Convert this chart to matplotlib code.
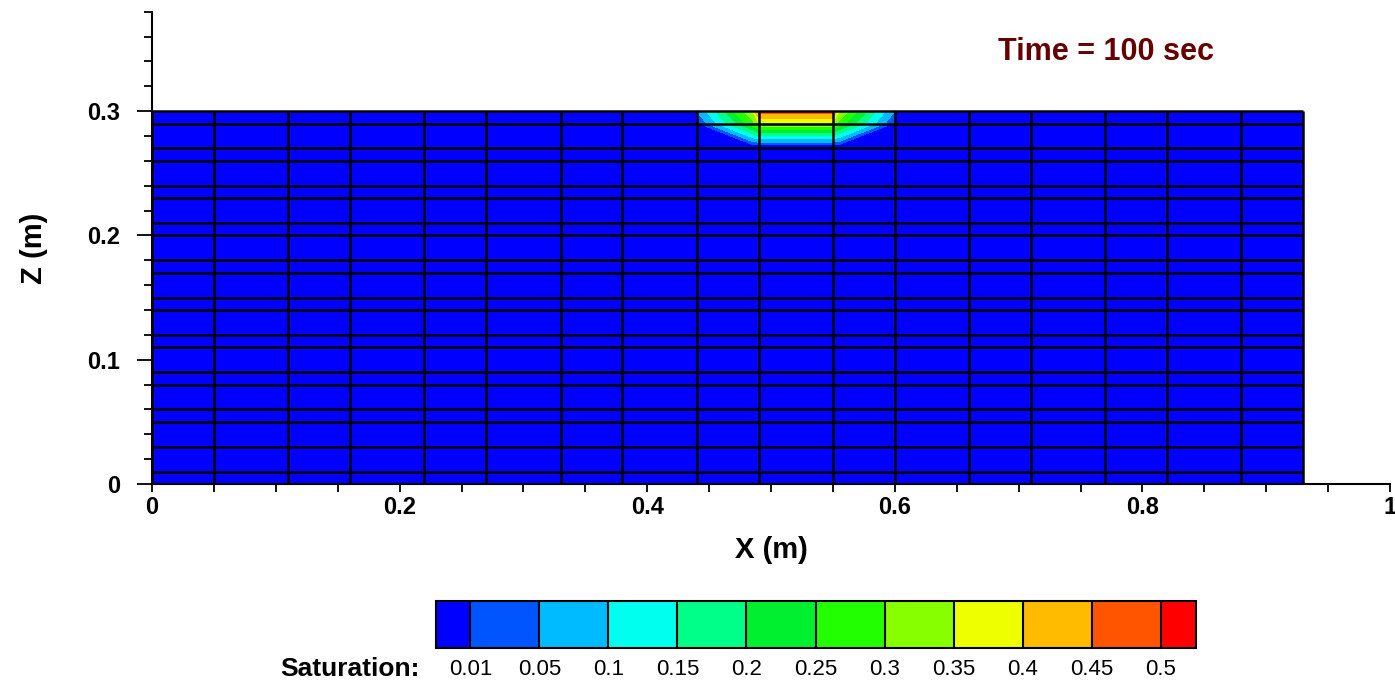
import numpy as np
import matplotlib
matplotlib.use("Agg")
import matplotlib.pyplot as plt
from matplotlib.colors import ListedColormap, BoundaryNorm
from matplotlib.ticker import MultipleLocator, FixedLocator

plt.rcParams['font.family'] = ['Liberation Sans', 'DejaVu Sans']

# mesh cell boundaries (m)
x_edges = [0, 0.05, 0.11, 0.16, 0.22, 0.27, 0.33, 0.38, 0.44, 0.49,
           0.55, 0.60, 0.66, 0.71, 0.77, 0.82, 0.88, 0.93]
z_edges = [0, 0.01, 0.03, 0.05, 0.06, 0.08, 0.09, 0.11, 0.12, 0.14, 0.15,
           0.17, 0.18, 0.20, 0.21, 0.23, 0.24, 0.26, 0.27, 0.29, 0.30]

# saturation (everything else ~0)
plume_x = [0.44, 0.485, 0.49, 0.55, 0.555, 0.60]
plume_z = [0.2725, 0.29, 0.30]
plume_sat = [
    [0.00, 0.00, 0.00, 0.00, 0.00, 0.00],
    [0.00, 0.28, 0.34, 0.34, 0.28, 0.00],
    [0.05, 0.35, 0.48, 0.48, 0.35, 0.05],
]

levels = [0.01, 0.05, 0.1, 0.15, 0.2, 0.25, 0.3, 0.35, 0.4, 0.45, 0.5]
level_labels = ['0.01', '0.05', '0.1', '0.15', '0.2', '0.25', '0.3',
                '0.35', '0.4', '0.45', '0.5']
band_colors = ['#0055ff', '#00bbff', '#00ffee', '#00ff88', '#00f030',
               '#22ff00', '#88ff00', '#eeff00', '#ffbb00', '#ff5500']
under_color = '#0000ff'
over_color = '#ff0000'

cmap = ListedColormap(band_colors)
cmap.set_under(under_color)
cmap.set_over(over_color)
norm = BoundaryNorm(levels, cmap.N)

fig = plt.figure(figsize=(13.95, 6.86), dpi=100)
W, H = 1395, 686
ax = fig.add_axes([152 / W, 1 - 484 / H, 1238 / W, 472.3 / H])

# background: whole domain at residual saturation
ax.fill_between([x_edges[0], x_edges[-1]], z_edges[0], z_edges[-1],
                color=under_color, linewidth=0, zorder=1)

X, Z = np.meshgrid(plume_x, plume_z)
cs = ax.contourf(X, Z, np.array(plume_sat), levels=levels, cmap=cmap,
                 norm=norm, extend='both', zorder=2, antialiased=False)

# mesh lines
ax.vlines(x_edges, z_edges[0], z_edges[-1], colors='black', linewidth=1.8, zorder=3)
ax.hlines(z_edges, x_edges[0], x_edges[-1], colors='black', linewidth=1.8, zorder=3)

ax.set_xlim(0, 1)
ax.set_ylim(0, 0.38)
for side in ['top', 'right']:
    ax.spines[side].set_visible(False)
for side in ['left', 'bottom']:
    ax.spines[side].set_linewidth(1.5)
    ax.spines[side].set_zorder(4)

ax.xaxis.set_major_locator(FixedLocator([0, 0.2, 0.4, 0.6, 0.8, 1.0]))
ax.xaxis.set_minor_locator(MultipleLocator(0.05))
ax.yaxis.set_major_locator(FixedLocator([0, 0.1, 0.2, 0.3]))
ax.yaxis.set_minor_locator(MultipleLocator(0.02))
ax.set_xticklabels(['0', '0.2', '0.4', '0.6', '0.8', '1'])
ax.set_yticklabels(['0', '0.1', '0.2', '0.3'])
ax.tick_params(axis='x', which='both', direction='out', length=6, width=1.3,
               labelsize=17, pad=3)
ax.tick_params(axis='y', which='major', direction='out', length=11, width=1.3,
               labelsize=17, pad=12)
ax.tick_params(axis='y', which='minor', direction='out', length=6, width=1.3)
for lab in ax.get_xticklabels() + ax.get_yticklabels():
    lab.set_fontweight('bold')

ax.set_xlabel('X (m)', fontsize=21, fontweight='bold', labelpad=12)
ax.set_ylabel('Z (m)', fontsize=21, fontweight='bold', labelpad=28)

ax.text(0.7706, 0.3475, 'Time = 100 sec', fontsize=22, fontweight='bold',
        color='#660000', ha='center', va='center')

# colour legend
cax = fig.add_axes([435.5 / W, 1 - 648 / H, 760 / W, 47 / H])
cb = fig.colorbar(cs, cax=cax, orientation='horizontal', ticks=levels,
                  drawedges=True, extendrect=True, extendfrac=0.0507)
cb.outline.set_linewidth(1.5)
cb.dividers.set_linewidth(1.5)
cb.set_ticklabels(level_labels)
cax.tick_params(length=0, labelsize=16, pad=8)
fig.text(420 / W, 1 - 669 / H, 'Saturation:', fontsize=19, fontweight='bold',
         ha='right', va='center')

fig.savefig('out.png', dpi=100)
